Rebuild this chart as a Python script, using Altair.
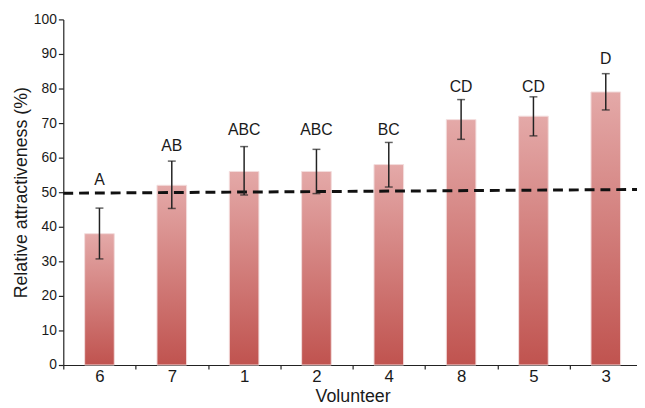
import altair as alt
import pandas as pd

volunteers = ["6", "7", "1", "2", "4", "8", "5", "3"]
means = [38, 52, 56, 56, 58, 71, 72, 79]
err_low = [30.7, 45.3, 49.2, 49.6, 51.5, 65.3, 66.3, 73.8]
err_high = [45.4, 59.0, 63.2, 62.4, 64.4, 76.8, 77.6, 84.3]
letters = ["A", "AB", "ABC", "ABC", "BC", "CD", "CD", "D"]
letter_y = [52.0, 62.0, 66.6, 66.6, 66.6, 79.1, 79.1, 87.1]
ref_line = [49.7, 50.8]

df = pd.DataFrame({
    "Volunteer": volunteers,
    "mean": means,
    "lo": err_low,
    "hi": err_high,
    "letter": letters,
    "ly": letter_y,
})
ref_df = pd.DataFrame({"y1": [ref_line[0]], "y2": [ref_line[1]]})

W, H = 581, 350
FONT = "Liberation Sans"

common = dict(titleFontSize=18, titleFontWeight="normal",
              labelColor="#1a1a1a", titleColor="#1a1a1a",
              domainColor="#222", tickColor="#222", domainWidth=1.2, tickWidth=1.2,
              labelFont=FONT, titleFont=FONT, grid=False)

x_axis = alt.Axis(title="Volunteer", labelAngle=0, tickBand="extent", labelFontSize=17,
                  tickSize=4, labelPadding=0, titlePadding=3, **common)
y_axis = alt.Axis(title="Relative attractiveness (%)", values=list(range(0, 101, 10)),
                  labelFontSize=14, tickSize=5, labelPadding=2, titlePadding=3,
                  labelOverlap=False, **common)
x_scale = alt.Scale(range=[0, 586], paddingInner=0, paddingOuter=0)
y_scale = alt.Scale(domain=[0, 100], nice=False)

X = alt.X("Volunteer:N", sort=volunteers, scale=x_scale, axis=x_axis)


def Y(field):
    return alt.Y(field, scale=y_scale, axis=y_axis)


bars = alt.Chart(df).mark_bar(
    size=30,
    stroke="#f3dcdc", strokeWidth=1,
    color=alt.Gradient(
        gradient="linear", x1=0, y1=0, x2=0, y2=1,
        stops=[alt.GradientStop(offset=0, color="#e4a9a8"),
               alt.GradientStop(offset=1, color="#c0534f")],
    ),
).encode(x=X, y=Y("mean:Q"))

rules = alt.Chart(df).mark_rule(color="#222", strokeWidth=1.5).encode(
    x=X, y=Y("lo:Q"), y2="hi:Q")
cap_lo = alt.Chart(df).mark_tick(color="#222", thickness=1.5, size=8, orient="horizontal").encode(
    x=X, y=Y("lo:Q"))
cap_hi = alt.Chart(df).mark_tick(color="#222", thickness=1.5, size=8, orient="horizontal").encode(
    x=X, y=Y("hi:Q"))

labels = alt.Chart(df).mark_text(baseline="alphabetic", fontSize=16, font=FONT,
                                 color="#1a1a1a").encode(
    x=X, y=Y("ly:Q"), text="letter:N")

dash = alt.Chart(ref_df).mark_rule(color="#111", strokeWidth=3, strokeDash=[10, 6]).encode(
    x=alt.value(0), x2=alt.value(W + 5), y=Y("y1:Q"), y2="y2:Q")

chart = alt.layer(bars, dash, rules, cap_lo, cap_hi, labels).properties(
    width=W, height=H,
    autosize=alt.AutoSizeParams(type="none"),
    padding={"left": 56, "top": 9, "right": 0, "bottom": 42},
).configure_view(stroke=None)

chart.save("out.html", embed_options={"renderer": "svg", "actions": False})
